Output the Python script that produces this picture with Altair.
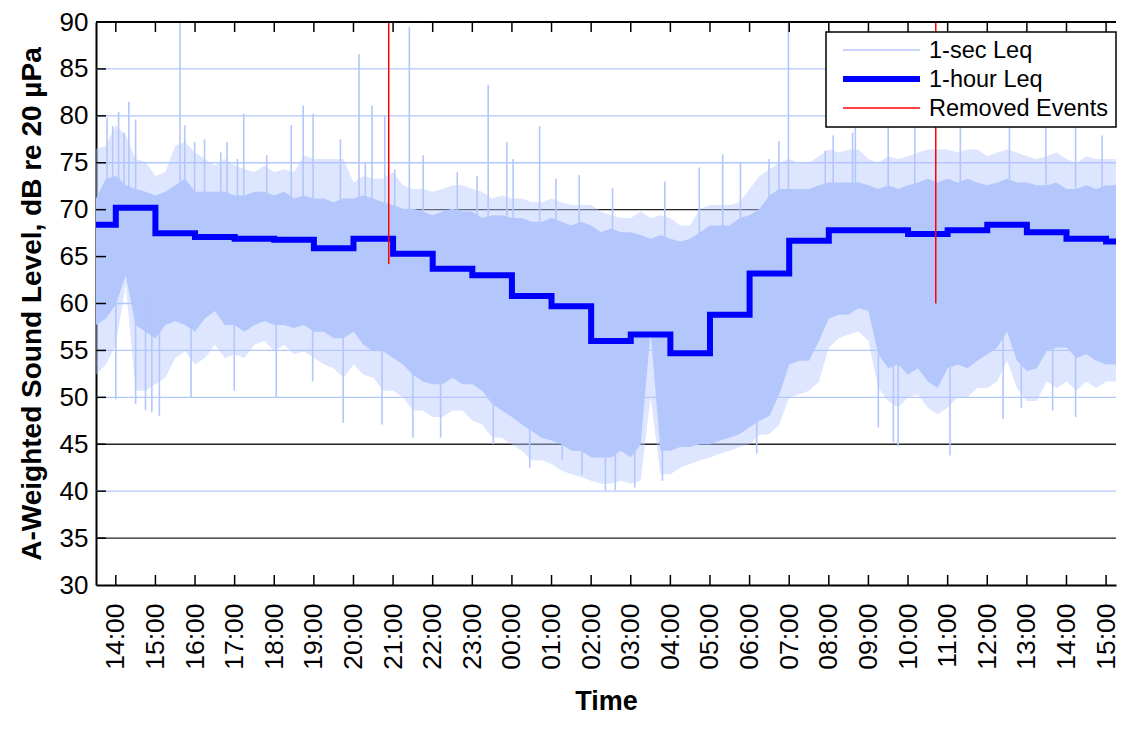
import altair as alt
import pandas as pd

# ---------------- data ----------------
# time axis in hours counted from midnight of day 1 (24 = 00:00 next day)
HOUR_TICKS = list(range(14, 40))

# 1-hour Leq, value for each hour starting at the given hour
leq_hour_start = list(range(13, 40))
leq_1h = [68.4, 70.2, 67.5, 67.1, 66.9, 66.8, 65.9, 66.9, 65.3, 63.7, 63.0,
          60.8, 59.7, 56.0, 56.7, 54.7, 58.8, 63.2, 66.7, 67.8, 67.8, 67.4,
          67.8, 68.4, 67.6, 66.9, 66.6]

# 1-sec Leq envelope, sampled every 15 min from 13:30
SAMPLE_START = 13.5
SAMPLE_STEP = 0.25
core_hi = ([71.2, 73.3] +
           [73.6, 72.6, 72.2, 71.9] + [71.5, 71.9, 72.6, 73.3] + [71.9, 71.9, 71.9, 71.9] +
           [71.5, 71.5, 71.9, 71.9] + [71.5, 71.9, 71.2, 71.5] + [71.2, 71.2, 70.8, 71.2] +
           [71.2, 71.5, 71.2, 70.8] + [70.5, 70.1, 70.1, 69.8] + [69.4, 69.8, 70.1, 69.8] +
           [69.8, 69.1, 69.4, 69.4] + [69.1, 69.1, 68.7, 68.7] + [69.1, 68.7, 68.3, 68.7] +
           [68.3, 67.6, 68.0, 67.6] + [67.6, 67.3, 66.9, 67.3] + [66.9, 66.6, 66.9, 67.6] +
           [68.3, 68.3, 68.3, 69.1] + [69.4, 70.1, 71.5, 72.2] + [72.2, 72.2, 72.2, 72.6] +
           [72.9, 72.9, 72.9, 72.9] + [72.6, 72.2, 72.6, 72.2] + [72.6, 72.9, 73.3, 72.9] +
           [73.3, 72.9, 73.3, 72.9] + [72.6, 72.9, 73.3, 72.9] + [72.9, 72.6, 72.6, 72.9] +
           [72.2, 72.2, 72.6, 72.2] + [72.6, 72.6])
fringe_hi = ([76.5, 76.8] +
             [79.0, 77.9, 75.4, 75.1] + [73.6, 74.0, 76.8, 77.2] + [76.1, 75.4, 74.7, 75.4] +
             [74.7, 74.3, 74.0, 74.7] + [74.0, 74.3, 74.0, 75.8] + [75.4, 75.4, 75.4, 75.4] +
             [72.9, 73.6, 73.3, 73.3] + [74.0, 72.6, 72.2, 72.2] + [71.9, 72.2, 72.6, 72.6] +
             [72.2, 71.9, 71.2, 71.5] + [71.2, 71.2, 70.8, 70.8] + [71.2, 70.8, 70.5, 70.5] +
             [70.5, 69.8, 69.4, 69.1] + [69.1, 69.8, 69.1, 69.4] + [69.1, 68.3, 68.3, 70.1] +
             [70.5, 70.5, 70.5, 70.8] + [72.2, 73.6, 74.3, 75.0] + [75.4, 75.0, 75.0, 75.7] +
             [76.4, 76.1, 76.4, 76.4] + [75.4, 75.0, 75.7, 75.4] + [75.7, 76.1, 76.4, 76.4] +
             [76.4, 76.1, 76.4, 76.4] + [75.7, 76.1, 76.4, 76.1] + [75.7, 75.4, 75.7, 76.1] +
             [75.4, 75.0, 75.7, 75.4] + [75.4, 75.4])
core_lo = ([57.7, 58.4] +
           [59.9, 63.0, 57.7, 57.0] + [56.3, 57.7, 58.1, 57.7] + [57.0, 58.4, 59.2, 57.7] +
           [57.7, 57.0, 57.7, 58.1] + [57.7, 57.7, 57.4, 57.7] + [57.0, 57.0, 56.3, 56.3] +
           [57.0, 55.6, 54.9, 54.9] + [54.2, 53.5, 52.4, 51.7] + [51.4, 51.4, 52.1, 51.4] +
           [51.4, 50.7, 49.3, 48.6] + [47.9, 47.1, 46.4, 45.7] + [45.4, 45.0, 44.3, 44.3] +
           [43.6, 43.6, 43.6, 44.3] + [43.6, 45.0, 57.0, 44.3] + [44.3, 44.7, 44.7, 45.0] +
           [45.0, 45.4, 45.7, 46.1] + [46.8, 47.5, 48.0, 50.3] + [53.5, 53.9, 53.9, 56.0] +
           [58.4, 58.8, 58.8, 59.5] + [59.2, 54.6, 53.1, 53.5] + [52.4, 53.1, 51.7, 51.0] +
           [53.1, 53.5, 53.1, 53.9] + [54.6, 55.3, 57.0, 53.9] + [52.8, 53.1, 54.9, 55.3] +
           [55.3, 54.2, 54.6, 53.9] + [53.5, 53.5])
fringe_lo = ([52.4, 53.5] +
             [55.6, 62.0, 50.7, 50.7] + [51.4, 52.1, 54.2, 54.9] + [53.5, 54.2, 55.6, 54.2] +
             [54.6, 54.2, 55.6, 56.0] + [54.9, 55.6, 54.6, 54.9] + [54.2, 53.5, 53.1, 52.1] +
             [53.5, 52.4, 52.1, 50.7] + [50.7, 50.0, 48.6, 48.6] + [47.9, 47.9, 48.6, 48.6] +
             [47.5, 47.1, 45.7, 45.7] + [45.0, 44.3, 43.3, 43.3] + [42.9, 42.2, 41.8, 41.5] +
             [41.1, 40.8, 40.8, 41.1] + [40.8, 41.1, 50.0, 41.8] + [41.8, 42.5, 42.9, 43.3] +
             [43.6, 44.0, 44.3, 44.7] + [45.0, 46.0, 46.1, 47.1] + [50.0, 50.3, 50.7, 51.7] +
             [55.3, 56.3, 56.7, 57.0] + [56.0, 51.0, 49.6, 48.9] + [50.0, 50.3, 48.9, 48.2] +
             [48.9, 50.0, 50.0, 51.0] + [51.0, 51.7, 53.9, 51.0] + [49.6, 49.6, 51.7, 51.0] +
             [51.7, 50.7, 51.7, 51.0] + [51.7, 51.7])

# individual 1-sec peaks (upward) and dips (downward)
up_t = [13.78, 13.92, 14.07, 14.21, 14.33, 14.50, 15.62, 15.74, 15.99, 16.24, 16.65,
        16.81, 17.07, 17.23, 17.81, 18.43, 18.73, 18.98, 19.67, 20.14, 20.30, 20.47,
        20.79, 21.04, 21.41, 21.76, 22.62, 23.12, 23.40, 23.87, 24.03, 24.70, 25.11,
        25.70, 26.54, 27.86, 28.73, 29.32, 29.77, 30.49, 30.74, 30.98, 31.91, 32.11,
        32.60, 32.67, 33.50, 34.17, 35.32, 36.56, 37.48, 38.23, 38.90]
up_top = [79.8, 78.9, 80.4, 78.2, 81.5, 79.6, 90.0, 79.0, 77.2, 77.5, 76.1,
          77.2, 75.4, 80.2, 75.8, 79.0, 81.1, 80.2, 77.5, 86.6, 75.0, 81.1,
          80.0, 74.3, 89.5, 75.8, 74.0, 73.6, 83.3, 77.2, 75.4, 78.9, 73.3,
          73.7, 72.3, 73.0, 74.5, 75.9, 75.1, 75.4, 77.3, 90.0, 76.3, 77.9,
          78.2, 79.5, 80.0, 79.0, 79.0, 80.0, 79.5, 79.0, 77.9]
down_t = [14.00, 14.50, 14.75, 14.91, 15.10, 15.90, 16.99, 18.05, 18.97, 19.74, 20.72,
          21.50, 22.20, 23.53, 24.45, 25.27, 25.77, 26.36, 26.61, 27.10, 27.80, 30.18,
          33.25, 33.63, 33.75, 35.06, 36.40, 36.86, 37.65, 38.23]
down_bottom = [49.8, 49.3, 48.6, 48.4, 48.0, 50.0, 50.7, 50.0, 51.7, 47.3, 47.1,
               45.7, 45.7, 45.0, 42.5, 43.3, 41.8, 40.1, 40.1, 40.4, 41.1, 44.0,
               46.8, 45.2, 44.8, 43.8, 47.7, 48.9, 48.6, 47.9]

# removed events
removed_t = [20.89, 34.70]
removed_lo = [64.2, 60.0]
removed_hi = [90.0, 90.0]

Y_TICKS = list(range(30, 91, 5))
GRID_VALUES = list(range(35, 90, 5))
legend_labels = ["1-sec Leq", "1-hour Leq", "Removed Events"]

# ---------------- tables ----------------
t = [SAMPLE_START + SAMPLE_STEP * i for i in range(len(core_hi))]
env = pd.DataFrame({"t": t, "core_lo": core_lo, "core_hi": core_hi,
                    "fringe_lo": fringe_lo, "fringe_hi": fringe_hi})
ups = pd.DataFrame({"t": up_t, "v": up_top})
downs = pd.DataFrame({"t": down_t, "v": down_bottom})
hourly = pd.DataFrame({"t": leq_hour_start + [leq_hour_start[-1] + 1],
                       "v": leq_1h + [leq_1h[-1]]})
removed = pd.DataFrame({"t": removed_t, "lo": removed_lo, "hi": removed_hi})
grid = pd.DataFrame({"v": GRID_VALUES})
yt = pd.DataFrame({"v": GRID_VALUES})
xt = pd.DataFrame({"t": HOUR_TICKS})

# ---------------- style ----------------
W, H = 1020, 563
LB = "#b4c7fc"
BLUE = "#0000ff"
RED = "#ff0000"
FONT = "Liberation Sans"

xs = alt.Scale(domain=[13.5, 39.25], nice=False, zero=False)
ys = alt.Scale(domain=[30, 90], nice=False, zero=False)

x_axis = alt.Axis(values=HOUR_TICKS,
                  labelExpr="(datum.value % 24 < 10 ? '0' : '') + (datum.value % 24) + ':00'",
                  labelAngle=270, labelFontSize=26.5, labelPadding=18, ticks=False,
                  domainColor="black", domainWidth=2, grid=False, labelColor="black",
                  title="Time", titleFontSize=27, titleFontWeight="bold", titleColor="black",
                  titlePadding=19, labelOverlap=False, labelFlush=False)
y_axis = alt.Axis(values=Y_TICKS, labelFontSize=26, labelPadding=8, ticks=False,
                  domainColor="black", domainWidth=2, grid=False, labelColor="black",
                  title="A-Weighted Sound Level, dB re 20 \u00b5Pa", titleFontSize=28,
                  titleFontWeight="bold", titleColor="black", titlePadding=13,
                  labelFlush=False, labelOverlap=False)


def X():
    return alt.X("t:Q", scale=xs, axis=x_axis)


def Y(f):
    return alt.Y(f, scale=ys, axis=y_axis)


gridlines = alt.Chart(grid).mark_rule(strokeWidth=1.3).encode(
    y=Y("v:Q"),
    color=alt.condition(alt.FieldOneOfPredicate(field="v", oneOf=[35, 45, 70]),
                        alt.value("#222222"), alt.value(LB)),
)

fringe = alt.Chart(env).mark_area(color=LB, opacity=0.45, clip=True).encode(
    x=X(), y=Y("fringe_lo:Q"), y2="fringe_hi:Q",
)
core = alt.Chart(env).mark_area(color=LB, opacity=1, clip=True).encode(
    x=X(), y=Y("core_lo:Q"), y2="core_hi:Q",
)
up_sp = alt.Chart(ups).mark_rule(color=LB, strokeWidth=1.6, clip=True).encode(
    x=X(), y=Y("v:Q"), y2=alt.datum(64),
)
down_sp = alt.Chart(downs).mark_rule(color=LB, strokeWidth=1.6, clip=True).encode(
    x=X(), y=Y("v:Q"), y2=alt.datum(61),
)
hour_line = alt.Chart(hourly).mark_line(color=BLUE, strokeWidth=6, interpolate="step-after",
                                        clip=True, strokeJoin="miter").encode(
    x=X(), y=Y("v:Q"),
)
removed_rules = alt.Chart(removed).mark_rule(color=RED, strokeWidth=1.5).encode(
    x=X(), y=Y("lo:Q"), y2="hi:Q",
)

# frame: top border and inward ticks
top_border = alt.Chart(xt).mark_rule(color="black", strokeWidth=2).encode(
    x=alt.value(0), x2=alt.value(W), y=alt.value(0))
top_ticks = alt.Chart(xt).mark_rule(color="black", strokeWidth=1.5).encode(
    x=X(), y=alt.value(0), y2=alt.value(10))
bot_ticks = alt.Chart(xt).mark_rule(color="black", strokeWidth=1.5).encode(
    x=X(), y=alt.value(H - 10), y2=alt.value(H))
left_ticks = alt.Chart(yt).mark_rule(color="black", strokeWidth=1.5).encode(
    y=Y("v:Q"), x=alt.value(0), x2=alt.value(10))

# legend
LX0, LX1, LY0, LY1 = 730, 1020, 10, 105
leg_box = alt.Chart(pd.DataFrame({"a": [0]})).mark_rect(
    fill="white", stroke="black", strokeWidth=1.5).encode(
    x=alt.value(LX0), x2=alt.value(LX1), y=alt.value(LY0), y2=alt.value(LY1))
leg_layers = [leg_box]
row_y = [28, 57, 86]
row_style = [(LB, 1.5), (BLUE, 6), (RED, 1.5)]
for lab, yy, (col, sw) in zip(legend_labels, row_y, row_style):
    d = pd.DataFrame({"label": [lab]})
    leg_layers.append(alt.Chart(d).mark_rule(color=col, strokeWidth=sw).encode(
        x=alt.value(747), x2=alt.value(824), y=alt.value(yy)))
    leg_layers.append(alt.Chart(d).mark_text(align="left", baseline="middle", fontSize=23.5,
                                             font=FONT, color="black").encode(
        x=alt.value(833), y=alt.value(yy + 1), text="label:N"))

chart = alt.layer(
    gridlines, fringe, core, up_sp, down_sp, hour_line, removed_rules,
    top_border, top_ticks, bot_ticks, left_ticks, *leg_layers
).properties(
    width=W, height=H,
    padding={"left": 88, "top": 14, "right": 4, "bottom": 132},
    autosize=alt.AutoSizeParams(type="none"),
).configure_view(stroke=None).configure_axis(
    labelFont=FONT, titleFont=FONT
).configure_text(font=FONT)

chart.save("out.html", embed_options={"renderer": "svg", "actions": False})
